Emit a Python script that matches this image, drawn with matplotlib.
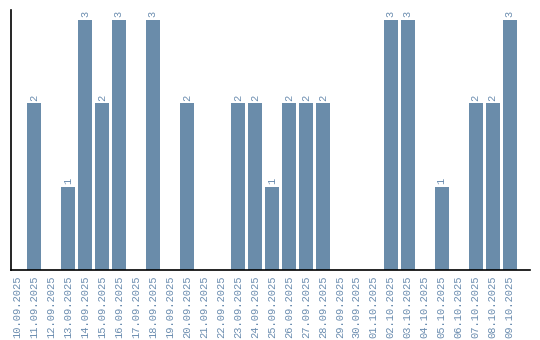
import matplotlib
matplotlib.use("Agg")
import matplotlib.pyplot as plt

# ---- Data
dates = ["10.09.2025", "11.09.2025", "12.09.2025", "13.09.2025", "14.09.2025",
         "15.09.2025", "16.09.2025", "17.09.2025", "18.09.2025", "19.09.2025",
         "20.09.2025", "21.09.2025", "22.09.2025", "23.09.2025", "24.09.2025",
         "25.09.2025", "26.09.2025", "27.09.2025", "28.09.2025", "29.09.2025",
         "30.09.2025", "01.10.2025", "02.10.2025", "03.10.2025", "04.10.2025",
         "05.10.2025", "06.10.2025", "07.10.2025", "08.10.2025", "09.10.2025"]
counts = [0, 2, 0, 1, 3, 2, 3, 0, 3, 0,
          2, 0, 0, 2, 2, 1, 2, 2, 2, 0,
          0, 0, 3, 3, 0, 1, 0, 2, 2, 3]

bar_color = "#6a8caa"
text_color = "#6a8caf"
mono = "Liberation Mono"

# ---- Plot
fig = plt.figure(figsize=(5.4, 3.4), dpi=100)
ax = fig.add_axes([0.0204, 0.2059, 0.9611, 0.7647])

x = list(range(len(dates)))
ax.bar(x, counts, width=0.82, color=bar_color, zorder=2)

# value labels above the bars
for xi, v in zip(x, counts):
    if v > 0:
        ax.text(xi, v + 0.03, str(v), rotation=90, ha="center", va="bottom",
                fontsize=7.5, family=mono, color=text_color)

ax.set_xlim(-0.35, 30.2)
ax.set_ylim(0, 3.12)

ax.set_xticks(x)
ax.set_xticklabels(dates, rotation=90, fontsize=7.5, family=mono,
                   color=text_color)
ax.tick_params(axis="x", length=0, pad=4)
ax.set_yticks([])

for side in ("top", "right"):
    ax.spines[side].set_visible(False)
ax.spines["left"].set_linewidth(1.2)
ax.spines["bottom"].set_linewidth(1.2)

fig.savefig("out.png", dpi=100)
